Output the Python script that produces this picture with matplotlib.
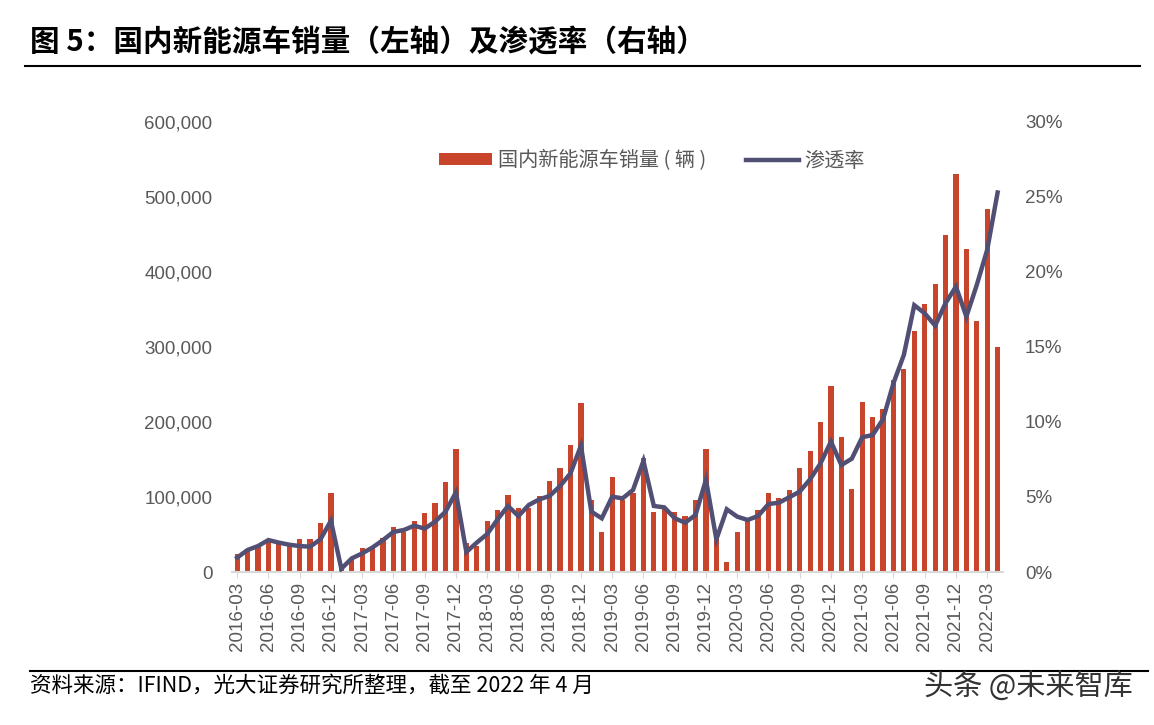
import matplotlib
matplotlib.use('Agg')
import matplotlib.pyplot as plt
import matplotlib.ticker as mticker
import pandas as pd

plt.rcParams['font.family'] = ['Liberation Sans', 'Noto Sans CJK SC', 'DejaVu Sans']

# 월별 카테고리 (2016-03 ~ 2022-04)
months = [p.strftime('%Y-%m') for p in pd.period_range('2016-03', '2022-04', freq='M')]

# 국내 신에너지차 판매량 (辆)
sales = [
    23600, 29300, 33700, 40400, 38200, 36000, 44400, 44400, 65300, 105300,
    6000, 18700, 31500, 32000, 45000, 59500, 53800, 68500, 78200, 91500, 119500, 163500,
    38200, 35100, 68500, 82700, 102200, 84900, 84900, 100900, 121800, 138200, 169300, 224900,
    96000, 53800, 126200, 96000, 104900, 152400, 80400, 84900, 80400, 75100, 96000, 163600,
    44000, 12900, 53800, 71500, 82700, 104900, 98700, 109300, 138200, 160900, 200400, 248000,
    179500, 110200, 226200, 206200, 217300, 256000, 271100, 321300, 357300, 383500, 449800, 531100,
    431100, 334200, 484000, 299600,
]

# 침투율 (%)
rate = [
    0.96, 1.47, 1.73, 2.13, 1.96, 1.82, 1.73, 1.69, 2.18, 3.42,
    0.22, 0.91, 1.24, 1.64, 2.13, 2.67, 2.80, 3.09, 2.89, 3.36, 4.02, 5.31,
    1.33, 1.96, 2.53, 3.51, 4.40, 3.73, 4.47, 4.84, 5.07, 5.73, 6.58, 8.42,
    4.02, 3.58, 5.02, 4.91, 5.47, 7.40, 4.40, 4.31, 3.58, 3.29, 3.80, 6.15,
    2.18, 4.18, 3.69, 3.47, 3.73, 4.53, 4.62, 4.98, 5.36, 6.18, 7.24, 8.69,
    7.13, 7.55, 8.98, 9.13, 10.18, 12.58, 14.47, 17.78, 17.24, 16.42, 17.91, 19.02,
    17.02, 19.13, 21.47, 25.29,
]

title = '图 5：国内新能源车销量（左轴）及渗透率（右轴）'
source = '资料来源：IFIND，光大证券研究所整理，截至 2022 年 4 月'
bar_label = '国内新能源车销量 ( 辆 )'
line_label = '渗透率'

bar_color = '#C8442A'
line_color = '#514F74'
text_gray = '#595959'

fig = plt.figure(figsize=(11.54, 7.25), dpi=100)
ax = fig.add_axes([0.201, 0.211, 0.668, 0.621])
ax2 = ax.twinx()

x = list(range(len(months)))
b = ax.bar(x, sales, width=0.5, color=bar_color, label=bar_label, zorder=2)
ln, = ax2.plot(x, rate, color=line_color, lw=3.2, label=line_label, zorder=3,
               solid_joinstyle='miter')

ax.set_xlim(-0.5, len(months) - 0.5)
ax.set_ylim(0, 600000)
ax2.set_ylim(0, 30)
ax.set_yticks(range(0, 600001, 100000))
ax2.set_yticks(range(0, 31, 5))
ax.yaxis.set_major_formatter(mticker.FuncFormatter(lambda v, p: f'{int(v):,}'))
ax2.yaxis.set_major_formatter(mticker.FuncFormatter(lambda v, p: f'{int(v)}%'))

ax.set_xticks(x[::3])
ax.set_xticklabels(months[::3], rotation=90)

for a in (ax, ax2):
    for s in a.spines.values():
        s.set_visible(False)
ax.spines['bottom'].set_visible(True)
ax.spines['bottom'].set_color('#D9D9D9')
ax.spines['bottom'].set_linewidth(1.5)

ax.tick_params(axis='y', length=0, pad=14, labelsize=13.5, labelcolor=text_gray)
ax2.tick_params(axis='y', length=0, pad=16, labelsize=13.5, labelcolor=text_gray)
ax.tick_params(axis='x', length=4, color='#D9D9D9', pad=3, labelsize=13.5, labelcolor=text_gray)

# 범례
leg = ax.legend([b, ln], [bar_label, line_label], loc='center', bbox_to_anchor=(0.545, 0.913),
                ncol=2, frameon=False, handlelength=2.6, handleheight=0.55,
                handletextpad=0.3, columnspacing=2.0,
                prop={'family': ['Noto Sans CJK SC'], 'size': 14.5})
for t in leg.get_texts():
    t.set_color(text_gray)

# 제목과 구분선
fig.text(0.026, 0.942, title, fontsize=21.3, fontweight='bold', va='center', ha='left',
         family=['Noto Sans CJK SC'], color='black')
fig.add_artist(plt.Line2D([0.022, 0.988], [0.909, 0.909], color='black', lw=1.5))
fig.add_artist(plt.Line2D([0.026, 0.995], [0.075, 0.075], color='black', lw=1.5))
fig.text(0.026, 0.054, source, fontsize=15.5, va='center', ha='left',
         family=['Noto Sans CJK SC'], color='black')
fig.text(0.982, 0.051, '头条 @未来智库', fontsize=21, va='center', ha='right',
         family=['Noto Sans CJK SC'], color='#333333')

fig.savefig('out.png', dpi=100)
